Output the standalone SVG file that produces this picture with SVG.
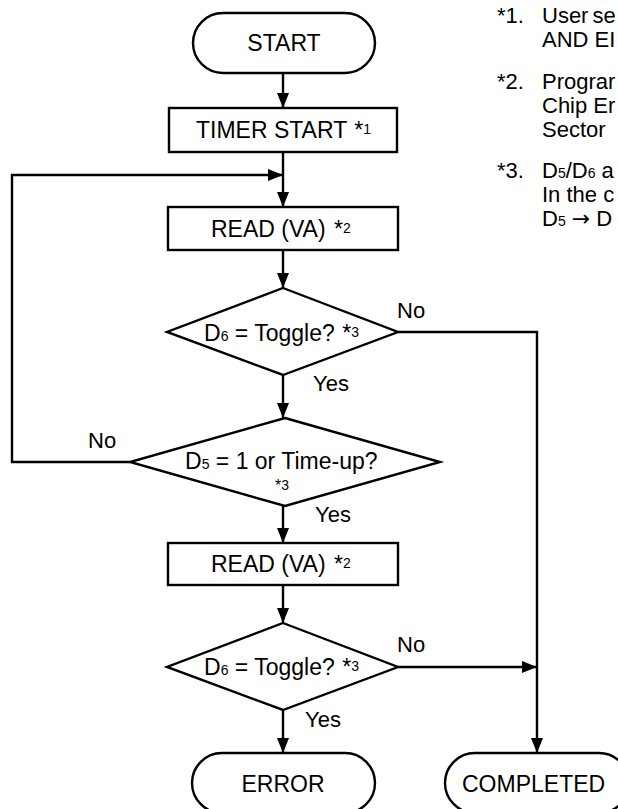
<svg xmlns="http://www.w3.org/2000/svg" width="618" height="809" viewBox="0 0 618 809">
<defs>
<marker id="ah" viewBox="0 0 15 12" refX="15" refY="6" markerWidth="15" markerHeight="12" markerUnits="userSpaceOnUse" orient="auto">
<path d="M0,0 L15,6 L0,12 Z" fill="#000"/>
</marker>
<style>
.s{fill:#fff;stroke:#000;stroke-width:2.4}
.c{fill:none;stroke:#000;stroke-width:2.4}
text{font-family:"Liberation Sans",Arial,sans-serif;font-size:23px;fill:#000}
.lb{font-size:22px}
.n{font-size:22px}
.m{text-anchor:middle}
.sub{font-size:14px}
.sup{font-size:14px}
.sm{font-size:16px}
</style>
</defs>
<rect width="618" height="809" fill="#fff"/>

<g id="connectors">
<path class="c" d="M283,73 V108" marker-end="url(#ah)"/>
<path class="c" d="M283,152 V207" marker-end="url(#ah)"/>
<path class="c" d="M130,462 H12 V175 H283" marker-end="url(#ah)"/>
<path class="c" d="M283,250 V288" marker-end="url(#ah)"/>
<path class="c" d="M283,375 V418" marker-end="url(#ah)"/>
<path class="c" d="M398,332 H537 V753" marker-end="url(#ah)"/>
<path class="c" d="M283,506 V543" marker-end="url(#ah)"/>
<path class="c" d="M283,585 V623" marker-end="url(#ah)"/>
<path class="c" d="M398,667 H537" marker-end="url(#ah)"/>
<path class="c" d="M283,710 V753" marker-end="url(#ah)"/>
<text class="lb" x="397" y="318">No</text>
<text class="lb" x="313" y="391">Yes</text>
<text class="lb" x="88" y="448">No</text>
<text class="lb" x="315" y="522">Yes</text>
<text class="lb" x="397" y="652">No</text>
<text class="lb" x="305" y="727">Yes</text>
</g>

<g id="start">
<rect class="s" x="193" y="13" width="182" height="60" rx="30"/>
<text class="m" x="284" y="51">START</text>
</g>

<g id="timer">
<rect class="s" x="169" y="108" width="228" height="44"/>
<text x="196" y="138">TIMER START <tspan dx="1">*</tspan><tspan class="sup" dy="-4">1</tspan></text>
</g>

<g id="read1">
<rect class="s" x="168" y="207" width="230" height="43"/>
<text x="211" y="237">READ (VA) <tspan dx="2">*</tspan><tspan class="sup" dy="-4">2</tspan></text>
</g>

<g id="toggle1">
<polygon class="s" points="283,288 398,332 283,375 167,332"/>
<text x="204" y="341">D<tspan class="sub">6</tspan> = Toggle? <tspan dx="1">*</tspan><tspan class="sup" dy="-4">3</tspan></text>
</g>

<g id="timeup">
<polygon class="s" points="285,418 440,462 285,506 130,462"/>
<text x="185" y="469">D<tspan class="sub">5</tspan> = 1 or Time-up?</text>
<text class="sm" x="275" y="491">*<tspan class="sup" dy="-1">3</tspan></text>
</g>

<g id="read2">
<rect class="s" x="168" y="543" width="230" height="42"/>
<text x="211" y="572">READ (VA) <tspan dx="2">*</tspan><tspan class="sup" dy="-4">2</tspan></text>
</g>

<g id="toggle2">
<polygon class="s" points="283,623 398,667 283,710 167,667"/>
<text x="204" y="675">D<tspan class="sub">6</tspan> = Toggle? <tspan dx="1">*</tspan><tspan class="sup" dy="-4">3</tspan></text>
</g>

<g id="error">
<rect class="s" x="192" y="753" width="183" height="60" rx="30"/>
<text class="m" x="283" y="792">ERROR</text>
</g>

<g id="completed">
<rect class="s" x="445" y="753" width="184" height="60" rx="30"/>
<text x="462" y="792">COMPLETED</text>
</g>

<g id="notes">
<text class="n" x="497" y="23">*1.</text><text class="n" x="542" y="23" word-spacing="-2">User se</text>
<text class="n" x="542" y="47">AND EI</text>
<text class="n" x="497" y="89">*2.</text><text class="n" x="542" y="89">Prograr</text>
<text class="n" x="542" y="113">Chip Er</text>
<text class="n" x="542" y="137">Sector</text>
<text class="n" x="497" y="178">*3.</text><text class="n" x="542" y="178">D<tspan class="sub">5</tspan>/D<tspan class="sub">6</tspan> a</text>
<text class="n" x="542" y="202">In the c</text>
<text class="n" x="542" y="226">D<tspan class="sub">5</tspan> <tspan font-family="DejaVu Sans, sans-serif">→</tspan> D</text>
</g>
</svg>
